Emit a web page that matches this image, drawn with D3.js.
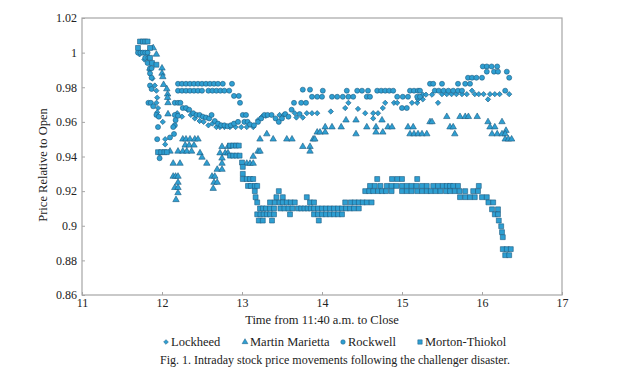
<!DOCTYPE html>
<html>
<head>
<meta charset="utf-8">
<script src="https://cdn.jsdelivr.net/npm/d3@7"></script>
<style>
  body { margin: 0; background: #fff; }
  text { font-family: "Liberation Serif", "Times New Roman", serif; fill: #222; }
  .axis path, .axis line { stroke: #a6a6a6; }
</style>
</head>
<body>
<svg id="chart"></svg>
<script>
// ticks
var xTicks = [11, 12, 13, 14, 15, 16, 17];
var yTicks = [0.86, 0.88, 0.9, 0.92, 0.94, 0.96, 0.98, 1, 1.02];

var seriesNames = ["Lockheed", "Martin Marietta", "Rockwell", "Morton-Thiokol"];

// [time, price relative to open]
var lockheed = [
  [11.72,0.999],[11.78,0.996],[11.84,0.99],[11.88,0.985],
  [11.91,0.981],[11.93,0.978],[11.94,0.974],[11.93,0.971],[11.95,0.968],[11.94,0.9655],
  [12.01,0.96],[12.04,0.95],[12.04,0.947],
  [12.19,0.965],[12.25,0.963],[12.32,0.967],[12.36,0.964],[12.41,0.962],[12.47,0.9605],[12.52,0.96],[12.58,0.958],[12.63,0.959],[12.68,0.957],
  [12.725,0.957],[12.78,0.957],[12.85,0.957],[12.92,0.957],[12.99,0.957],[13.06,0.957],[13.14,0.957],
  [13.2,0.961],[13.25,0.963],[13.3,0.9635],[13.47,0.964],[13.52,0.964],[13.66,0.965],[13.68,0.9625],[13.76,0.9625],
  [13.81,0.965],[13.875,0.965],[13.94,0.965],[14.11,0.966],[14.29,0.968],[14.33,0.971],[14.45,0.9675],[14.54,0.965],[14.64,0.965],[14.7,0.965],[14.64,0.962],
  [14.76,0.968],[14.79,0.971],[14.9,0.971],[14.94,0.971],
  [15.125,0.971],[15.19,0.971],[15.2,0.973],[15.26,0.973],[15.26,0.9757],[15.3,0.9757],[15.375,0.9757],[15.45,0.971],
  [15.5,0.976],[15.56,0.976],[15.62,0.976],[15.68,0.976],[15.75,0.976],[15.81,0.976],[15.875,0.978],
  [15.91,0.976],[15.96,0.976],[16.02,0.976],[16.075,0.973],[16.1,0.976],[16.16,0.976],[16.22,0.976],[16.34,0.976]
];

var martinMarietta = [
  [11.89,1.0027],[11.93,0.999],[12.0,0.991],[12.0,0.988],[12.01,0.986],[12.02,0.9815],[12.06,0.979],[12.07,0.976],[12.07,0.974],[12.075,0.971],[12.075,0.9645],
  [12.1,0.943],[12.14,0.936],[12.225,0.936],[12.14,0.9285],[12.17,0.9285],[12.2,0.9285],[12.2,0.925],[12.16,0.922],[12.2,0.922],[12.2,0.919],[12.175,0.915],
  [12.26,0.95],[12.3,0.95],[12.35,0.95],[12.41,0.95],[12.45,0.95],
  [12.29,0.9465],[12.34,0.9465],[12.4,0.9465],
  [12.2,0.943],[12.26,0.943],[12.31,0.943],[12.37,0.943],[12.475,0.942],[12.5,0.9395],[12.56,0.936],
  [12.625,0.9285],[12.66,0.9285],[12.65,0.925],[12.69,0.925],[12.64,0.9215],
  [12.69,0.9325],[12.75,0.9325],[12.75,0.936],[12.75,0.939],
  [12.725,0.942],[12.79,0.942],[12.825,0.942],[12.75,0.9457],[12.825,0.9457],
  [13.06,0.936],[13.1,0.936],[13.14,0.936],[13.14,0.94],[13.2,0.943],[13.225,0.943],[13.225,0.95],[13.31,0.953],[13.39,0.95],
  [13.56,0.95],[13.625,0.95],[13.76,0.9457],[13.85,0.9457],[13.85,0.943],[13.89,0.95],[13.91,0.95],[13.94,0.954],[13.975,0.954],
  [14.04,0.954],[14.04,0.957],[14.125,0.957],[14.24,0.957],[14.3,0.961],[14.425,0.961],[14.425,0.953],
  [14.56,0.957],[14.675,0.957],[14.675,0.954],[14.76,0.954],[14.75,0.961],[14.825,0.957],[14.875,0.957],
  [15.075,0.957],[15.14,0.957],[15.1,0.953],[15.15,0.953],[15.2,0.953],[15.25,0.953],[15.31,0.953],
  [15.35,0.96],[15.375,0.96],[15.56,0.963],[15.6,0.957],[15.64,0.957],[15.66,0.953],
  [15.725,0.963],[15.79,0.963],[15.83,0.963],[15.94,0.963],
  [16.075,0.96],[16.1,0.957],[16.16,0.957],[16.25,0.96],[16.3,0.955],
  [16.125,0.953],[16.19,0.953],[16.25,0.953],[16.29,0.953],[16.29,0.95],[16.33,0.95],[16.37,0.95]
];

var rockwell = [
  [11.70,1.0],[11.73,1.0],[11.76,1.0],[11.79,1.0],[11.82,1.0],
  [11.79,0.997],[11.83,0.997],[11.82,0.994],[11.85,0.991],[11.87,0.991],[11.85,0.988],[11.87,0.9855],[11.85,0.981],[11.87,0.979],
  [11.83,0.971],[11.86,0.971],[11.89,0.969],[11.93,0.964],[11.96,0.963],[11.95,0.957],[11.94,0.95],[11.97,0.942],[11.97,0.939],
  [12.16,0.971],[12.2,0.971],[12.23,0.971],[12.16,0.964],[12.2,0.9635],[12.17,0.961],[12.16,0.958],[12.14,0.957],[12.15,0.953],[12.1,0.951],
  [12.26,0.968],[12.3,0.968],[12.34,0.967],[12.39,0.965],[12.43,0.964],[12.47,0.964],[12.51,0.963],[12.55,0.9625],[12.59,0.962],
  [12.2,0.982],[12.25,0.982],[12.3,0.982],[12.35,0.982],[12.4,0.982],[12.45,0.982],[12.5,0.982],[12.55,0.982],[12.6,0.982],[12.65,0.982],[12.7,0.982],[12.76,0.982],[12.875,0.982],
  [12.2,0.978],[12.25,0.978],[12.3,0.978],[12.35,0.978],[12.4,0.978],[12.45,0.978],[12.5,0.978],[12.58,0.978],[12.63,0.978],[12.68,0.978],[12.73,0.978],[12.78,0.978],[12.84,0.978],
  [12.9,0.975],[12.96,0.975],[12.975,0.971],
  [12.62,0.964],[12.66,0.9605],[12.7,0.959],[12.74,0.958],[12.78,0.958],[12.82,0.9575],[12.86,0.958],[12.9,0.959],[12.95,0.96],
  [13.01,0.964],[13.05,0.964],[13.03,0.96],[13.07,0.96],[13.1,0.9585],[13.15,0.958],[13.2,0.96],[13.24,0.962],[13.28,0.964],[13.32,0.964],[13.37,0.964],
  [13.42,0.962],[13.46,0.96],[13.5,0.962],[13.54,0.9645],[13.58,0.963],[13.62,0.967],[13.65,0.971],[13.74,0.971],[13.8,0.971],[13.72,0.9645],
  [13.76,0.9786],[13.85,0.9786],[14.01,0.978],
  [13.875,0.9745],[13.94,0.9745],[14.0,0.9745],[14.125,0.9745],[14.19,0.9745],[14.26,0.9745],[14.33,0.9745],[14.39,0.9745],
  [14.31,0.978],[14.44,0.978],[14.5,0.978],[14.575,0.978],[14.56,0.9745],[14.6,0.9745],
  [14.69,0.978],[14.74,0.978],[14.79,0.978],[14.84,0.978],[14.89,0.978],
  [14.94,0.9745],[15.01,0.9745],[15.075,0.9745],[15.0,0.968],[15.06,0.968],
  [15.1,0.978],[15.15,0.978],[15.2,0.978],[15.19,0.9745],[15.225,0.9745],
  [15.35,0.982],[15.39,0.982],[15.5,0.982],[15.7,0.982],[15.79,0.982],[15.85,0.982],
  [15.225,0.978],[15.41,0.978],[15.46,0.978],[15.52,0.978],[15.58,0.978],[15.64,0.978],[15.7,0.978],[15.75,0.978],
  [15.825,0.9855],[15.875,0.9855],[15.93,0.9855],[16.0,0.9855],
  [16.01,0.992],[16.06,0.992],[16.12,0.992],[16.19,0.992],
  [16.06,0.989],[16.15,0.989],[16.2,0.989],[16.31,0.989],[16.34,0.9855],[16.29,0.978]
];

var mortonThiokol = [
  [11.70,1.0027],[11.725,1.0064],[11.76,1.0064],[11.79,1.0064],[11.82,1.0064],[11.85,1.0027],[11.85,0.997],[11.875,0.994],[11.93,0.993],
  [11.95,0.9425],[11.99,0.9425],[12.03,0.9425],[12.06,0.9425],
  [12.85,0.9463],[12.89,0.9463],[12.925,0.9463],[12.96,0.9463],[12.85,0.9405],[12.89,0.9405],[12.93,0.9405],[12.97,0.9405],
  [13.0,0.9365],[13.01,0.934],[13.01,0.93],[13.01,0.927],[13.06,0.927],[13.1,0.927],[13.14,0.927],
  [13.075,0.923],[13.11,0.923],[13.16,0.923],[13.19,0.923],[13.16,0.92],[13.17,0.9165],
  [13.19,0.9135],[13.35,0.9135],[13.41,0.9135],[13.47,0.9135],
  [13.225,0.91],[13.26,0.91],[13.3,0.91],[13.35,0.91],[13.4,0.91],
  [13.19,0.9066],[13.23,0.9066],[13.27,0.9066],[13.31,0.9066],[13.35,0.9066],[13.4,0.9066],
  [13.21,0.903],[13.26,0.903],[13.375,0.903],
  [13.43,0.9165],[13.51,0.9165],[13.46,0.92],
  [13.51,0.9135],[13.56,0.9135],[13.61,0.9135],[13.66,0.9135],
  [13.48,0.91],[13.53,0.91],[13.58,0.91],[13.63,0.91],[13.6,0.9066],
  [13.7,0.91],[13.74,0.91],[13.78,0.91],[13.82,0.91],[13.86,0.91],[13.81,0.9165],[13.85,0.9135],[13.9,0.9135],
  [13.9,0.91],[13.95,0.91],[14.0,0.91],[14.05,0.91],[14.1,0.91],[14.15,0.91],[14.2,0.91],[14.25,0.91],[14.3,0.91],[14.35,0.91],[14.4,0.91],[14.46,0.91],
  [13.9,0.9066],[13.95,0.9066],[14.0,0.9066],[14.05,0.9066],[14.1,0.9066],[14.15,0.9066],[14.2,0.9066],[14.25,0.9066],[13.96,0.903],
  [14.29,0.9135],[14.36,0.9135],[14.41,0.9135],[14.46,0.9135],[14.51,0.9135],[14.56,0.9135],[14.62,0.9135],
  [14.54,0.92],[14.59,0.92],[14.64,0.92],[14.7,0.92],[14.75,0.92],[14.8,0.92],[14.87,0.92],
  [14.6,0.923],[14.66,0.923],[14.73,0.923],[14.69,0.927],
  [14.81,0.923],[14.87,0.923],[14.93,0.923],[15.0,0.923],[15.06,0.923],[15.12,0.923],[15.18,0.923],[15.25,0.923],[15.31,0.923],
  [14.875,0.927],[14.94,0.927],[15.0,0.927],[15.19,0.927],
  [15.0,0.92],[15.06,0.92],[15.12,0.92],[15.19,0.92],[15.25,0.92],[15.31,0.92],[15.36,0.92],[15.42,0.92],
  [15.39,0.923],[15.45,0.923],[15.51,0.923],[15.56,0.923],[15.6,0.923],[15.64,0.923],[15.7,0.923],
  [15.48,0.92],[15.55,0.92],[15.6,0.92],[15.66,0.92],[15.72,0.92],[15.79,0.92],
  [15.725,0.9165],[15.79,0.9165],[15.85,0.9165],[15.91,0.9165],[15.89,0.92],[15.95,0.92],[15.96,0.923],
  [16.0,0.9165],[16.06,0.9165],[16.08,0.9135],[16.14,0.9135],[16.125,0.9095],[16.2,0.9095],[16.16,0.9066],[16.2,0.9066],
  [16.21,0.903],[16.24,0.8997],[16.25,0.8963],[16.26,0.8934],
  [16.26,0.8865],[16.31,0.8865],[16.36,0.8865],[16.29,0.883],[16.34,0.883]
];

var svgWidth = 618;
var svgHeight = 376;
var margin = { top: 18, right: 56, bottom: 81, left: 82 };
var chartWidth = svgWidth - margin.left - margin.right;
var chartHeight = svgHeight - margin.top - margin.bottom;

var svg = d3.select("#chart")
  .attr("width", svgWidth)
  .attr("height", svgHeight);

var chart = svg.append("g")
  .attr("transform", "translate(" + margin.left + "," + margin.top + ")");

var xScale = d3.scaleLinear().domain([11, 17]).range([0, chartWidth]);
var yScale = d3.scaleLinear().domain([0.86, 1.02]).range([chartHeight, 0]);

// frame
chart.append("rect")
  .attr("x", 0).attr("y", 0)
  .attr("width", chartWidth).attr("height", chartHeight)
  .attr("fill", "none")
  .attr("stroke", "#a6a6a6")
  .attr("stroke-width", 1.2);

// y axis
chart.append("g")
  .attr("class", "axis")
  .call(d3.axisLeft(yScale).tickValues(yTicks).tickSizeInner(-3).tickSizeOuter(0).tickPadding(5)
    .tickFormat(function (d) { return String(+d.toFixed(2)); }))
  .call(function (g) { g.select(".domain").remove(); })
  .selectAll("text")
  .style("font-size", "12px");

// x axis
chart.append("g")
  .attr("class", "axis")
  .attr("transform", "translate(0," + chartHeight + ")")
  .call(d3.axisBottom(xScale).tickValues(xTicks).tickSizeInner(-3).tickSizeOuter(0).tickPadding(3)
    .tickFormat(function (d) { return String(d); }))
  .call(function (g) { g.select(".domain").remove(); })
  .selectAll("text")
  .style("font-size", "12px");

var fillColor = "#2e9fd2";
var strokeColor = "#1d5a80";

var shapes = [
  { data: lockheed, type: d3.symbolSquare, size: 14, rotate: 45 },
  { data: martinMarietta, type: d3.symbolTriangle, size: 18, rotate: 0 },
  { data: rockwell, type: d3.symbolCircle, size: 20, rotate: 0 },
  { data: mortonThiokol, type: d3.symbolSquare, size: 24, rotate: 0 }
];

shapes.forEach(function (s) {
  chart.append("g")
    .selectAll("path")
    .data(s.data)
    .enter()
    .append("path")
    .attr("d", d3.symbol().type(s.type).size(s.size))
    .attr("transform", function (d) {
      return "translate(" + xScale(d[0]) + "," + yScale(d[1]) + ") rotate(" + s.rotate + ")";
    })
    .attr("fill", fillColor)
    .attr("stroke", strokeColor)
    .attr("stroke-width", 0.6);
});

// axis titles
svg.append("text")
  .attr("x", margin.left + chartWidth / 2)
  .attr("y", 324)
  .attr("text-anchor", "middle")
  .style("font-size", "12.5px")
  .text("Time from 11:40 a.m. to Close");

svg.append("text")
  .attr("transform", "translate(47,165) rotate(-90)")
  .attr("text-anchor", "middle")
  .style("font-size", "12.5px")
  .text("Price Relative to Open");

// legend
var legendX = [166, 245, 343, 420];
var legend = svg.append("g");
shapes.forEach(function (s, i) {
  legend.append("path")
    .attr("d", d3.symbol().type(s.type).size(s.size * 0.8))
    .attr("transform", "translate(" + legendX[i] + ",342) rotate(" + s.rotate + ")")
    .attr("fill", fillColor)
    .attr("stroke", strokeColor)
    .attr("stroke-width", 0.5);
  legend.append("text")
    .attr("x", legendX[i] + 5)
    .attr("y", 346)
    .style("font-size", "12.5px")
    .text(seriesNames[i]);
});

// caption
svg.append("text")
  .attr("x", 335)
  .attr("y", 364)
  .attr("text-anchor", "middle")
  .style("font-size", "12px")
  .text("Fig. 1. Intraday stock price movements following the challenger disaster.");
</script>
</body>
</html>
